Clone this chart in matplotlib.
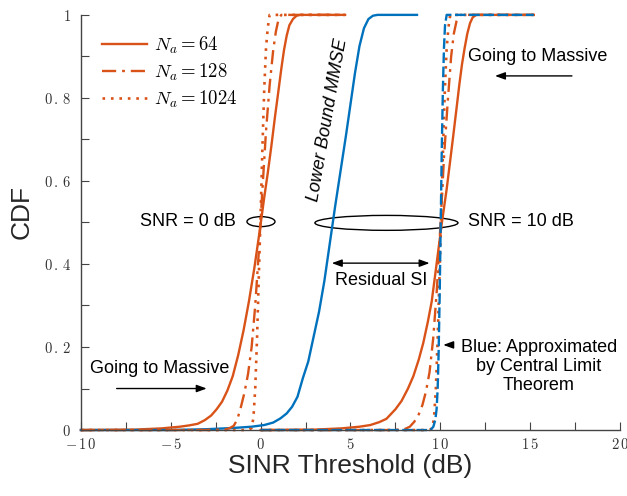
import matplotlib
matplotlib.use("Agg")
import matplotlib.pyplot as plt
from matplotlib.patches import Ellipse
from matplotlib.ticker import MultipleLocator, FuncFormatter

plt.rcParams['font.family'] = ['Liberation Sans', 'DejaVu Sans']
plt.rcParams['mathtext.fontset'] = 'cm'

ORANGE = '#D95319'
BLUE = '#0072BD'

# SNR = 0 dB, N_a = 64 / 128 / 1024
x0_64 = [-10, -7, -5.5, -4.5, -4.0, -3.5, -3.1, -2.75, -2.45, -2.15, -1.85, -1.55, -1.25, -0.95, -0.65, -0.35,
         -0.05, 0.2, 0.4, 0.6, 0.8, 1.0, 1.15, 1.3, 1.45, 1.6, 1.8, 2.0, 2.2, 4.7]
y0_64 = [0, 0.001, 0.004, 0.008, 0.011, 0.015, 0.024, 0.035, 0.05, 0.068, 0.095, 0.13, 0.18, 0.24, 0.31, 0.39,
         0.48, 0.56, 0.62, 0.685, 0.755, 0.82, 0.87, 0.915, 0.95, 0.975, 0.99, 0.998, 1.0, 1.0]
x0_128 = [-10, -2.5, -2.0, -1.75, -1.5, -1.3, -1.1, -0.9, -0.7, -0.5, -0.3, -0.1, 0.1, 0.3, 0.5, 0.7, 0.85, 1.0, 1.15, 4.7]
y0_128 = [0, 0, 0.001, 0.004, 0.01, 0.025, 0.055, 0.09, 0.135, 0.2, 0.3, 0.43, 0.58, 0.72, 0.83, 0.915, 0.96, 0.99, 1.0, 1.0]
x0_1024 = [-10, -0.65, -0.5, -0.4, -0.3, -0.2, -0.1, 0.0, 0.1, 0.2, 0.3, 0.4, 0.5, 4.7]
y0_1024 = [0, 0, 0.005, 0.03, 0.1, 0.22, 0.37, 0.52, 0.68, 0.82, 0.92, 0.97, 1.0, 1.0]

# SNR = 10 dB, N_a = 64 / 128 / 1024
x10_64 = [0, 3.0, 4.5, 5.5, 6.1, 6.6, 7.0, 7.5, 7.84, 8.2, 8.5, 8.8, 9.05, 9.3, 9.52, 9.79, 10.07, 10.35, 10.55,
          10.72, 10.9, 11.05, 11.2, 11.35, 11.5, 11.65, 11.8, 12.0, 15.2]
y10_64 = [0, 0.001, 0.004, 0.008, 0.012, 0.019, 0.027, 0.05, 0.07, 0.1, 0.13, 0.17, 0.21, 0.26, 0.31, 0.4, 0.495,
          0.58, 0.65, 0.71, 0.775, 0.83, 0.88, 0.92, 0.955, 0.98, 0.994, 1.0, 1.0]
x10_128 = [0, 7.5, 8.0, 8.3, 8.55, 8.8, 9.0, 9.2, 9.4, 9.6, 9.8, 10.0, 10.2, 10.4, 10.6, 10.75, 10.9, 11.1, 15.2]
y10_128 = [0, 0, 0.002, 0.008, 0.02, 0.038, 0.06, 0.093, 0.14, 0.22, 0.335, 0.49, 0.655, 0.785, 0.9, 0.955, 0.985, 1.0, 1.0]
x10_1024 = [0, 9.4, 9.55, 9.65, 9.75, 9.85, 9.95, 10.05, 10.15, 10.25, 10.35, 10.45, 10.55, 15.2]
y10_1024 = [0, 0, 0.005, 0.03, 0.1, 0.22, 0.37, 0.52, 0.68, 0.82, 0.92, 0.97, 1.0, 1.0]

# lower bound MMSE (blue solid) and CLT approximation (blue dashed)
x_mmse = [-10, -5, -3, -1.5, -0.5, 0.2, 0.7, 1.1, 1.45, 1.75, 2.05, 2.35, 2.65, 2.95, 3.25, 3.55, 3.85, 4.15,
          4.45, 4.75, 5.0, 5.25, 5.5, 5.75, 6.0, 6.25, 6.5, 8.7]
y_mmse = [0, 0, 0.002, 0.005, 0.008, 0.012, 0.018, 0.028, 0.04, 0.056, 0.08, 0.125, 0.165, 0.225, 0.285, 0.36,
          0.45, 0.54, 0.625, 0.71, 0.785, 0.86, 0.925, 0.968, 0.99, 0.998, 1.0, 1.0]
x_clt = [0, 9.45, 9.61, 9.72, 9.79, 9.85, 9.9, 9.96, 10.02, 10.08, 10.14, 10.2, 10.26, 10.35, 15.2]
y_clt = [0, 0, 0.008, 0.025, 0.05, 0.1, 0.18, 0.32, 0.5, 0.68, 0.82, 0.92, 0.975, 1.0, 1.0]

labels = [r'$N_a = 64$', r'$N_a = 128$', r'$N_a = 1024$']

fig = plt.figure(figsize=(6.27, 4.96), dpi=100)
ax = fig.add_axes([0.129, 0.133, 0.860, 0.837])

dashdot = (0, (6, 2.5, 1.2, 2.5))
dotted = (0, (1, 2.2))

l64, = ax.plot(x0_64, y0_64, color=ORANGE, lw=1.7, clip_on=False, label=labels[0])
ax.plot(x10_64, y10_64, color=ORANGE, lw=1.7, clip_on=False)
ax.plot(x_mmse, y_mmse, color=BLUE, lw=1.7, clip_on=False)
l128, = ax.plot(x0_128, y0_128, color=ORANGE, lw=1.7, ls=dashdot, clip_on=False, label=labels[1])
ax.plot(x10_128, y10_128, color=ORANGE, lw=1.7, ls=dashdot, clip_on=False)
l1024, = ax.plot(x0_1024, y0_1024, color=ORANGE, lw=1.9, ls=dotted, clip_on=False, label=labels[2])
ax.plot(x10_1024, y10_1024, color=ORANGE, lw=1.9, ls=dotted, clip_on=False)
ax.plot(x_clt, y_clt, color=BLUE, lw=1.7, ls=(0, (4.5, 1.5)), clip_on=False)

ax.set_xlim(-10, 20)
ax.set_ylim(0, 1)

for s in ['top', 'right']:
    ax.spines[s].set_visible(False)
for s in ['left', 'bottom']:
    ax.spines[s].set_color('#444444')
    ax.spines[s].set_linewidth(1.0)

ax.xaxis.set_major_locator(MultipleLocator(5))
ax.xaxis.set_minor_locator(MultipleLocator(2.5))
ax.yaxis.set_major_locator(MultipleLocator(0.2))
ax.yaxis.set_minor_locator(MultipleLocator(0.1))


def spaced(v, pos):
    s = '%g' % round(v, 3)
    return '$' + r'\,'.join(s) + '$'


ax.xaxis.set_major_formatter(FuncFormatter(spaced))
ax.yaxis.set_major_formatter(FuncFormatter(spaced))
ax.tick_params(which='both', direction='in', length=6, width=0.8, color='#444444')
ax.tick_params(axis='both', labelsize=10.5, labelcolor='#333333')
ax.tick_params(axis='y', pad=7)
ax.tick_params(axis='x', pad=5)

ax.set_xlabel('SINR Threshold (dB)', fontsize=19, color='#262626')
ax.xaxis.set_label_coords(0.499, -0.087)
ax.xaxis.label.set_va('center')
ax.set_ylabel('CDF', fontsize=19, color='#262626')
ax.yaxis.set_label_coords(-0.109, 0.525)
ax.yaxis.label.set_va('center')

ax.legend(handles=[l64, l128, l1024], loc='upper left', bbox_to_anchor=(0.039, 0.952),
          frameon=False, fontsize=13.5, handlelength=2.4, handletextpad=0.4,
          labelspacing=0.3, borderpad=0, borderaxespad=0)

# annotations
ax.add_patch(Ellipse((0.02, 0.502), 1.56, 0.024, fill=False, ec='k', lw=1))
ax.text(-1.35, 0.502, 'SNR = 0 dB', fontsize=13, ha='right', va='center')

ax.add_patch(Ellipse((7.0, 0.499), 7.96, 0.036, fill=False, ec='k', lw=1))
ax.text(11.55, 0.502, 'SNR = 10 dB', fontsize=13, ha='left', va='center')

ax.annotate('', xy=(9.4, 0.402), xytext=(3.96, 0.402),
            arrowprops=dict(arrowstyle='<|-|>,head_length=0.6,head_width=0.22',
                            color='k', lw=1, shrinkA=0, shrinkB=0, mutation_scale=10))
ax.text(6.68, 0.359, 'Residual SI', fontsize=13, ha='center', va='center')

ax.text(3.75, 0.747, 'Lower Bound MMSE', fontsize=13, ha='center', va='center',
        rotation=80, style='italic')

ax.text(11.54, 0.899, 'Going to Massive', fontsize=13, ha='left', va='center')
ax.annotate('', xy=(13.04, 0.853), xytext=(17.32, 0.853),
            arrowprops=dict(arrowstyle='-|>,head_length=0.6,head_width=0.22',
                            color='k', lw=1, shrinkA=0, shrinkB=0, mutation_scale=10))

ax.text(-9.5, 0.149, 'Going to Massive', fontsize=13, ha='left', va='center')
ax.annotate('', xy=(-3.0, 0.1), xytext=(-8.01, 0.1),
            arrowprops=dict(arrowstyle='-|>,head_length=0.6,head_width=0.22',
                            color='k', lw=1, shrinkA=0, shrinkB=0, mutation_scale=10))

ax.text(15.49, 0.1525, 'Blue: Approximated\nby Central Limit\nTheorem', fontsize=13,
        ha='center', va='center', multialignment='center', linespacing=1.15)
ax.annotate('', xy=(10.16, 0.205), xytext=(10.63, 0.205),
            arrowprops=dict(arrowstyle='-|>,head_length=0.6,head_width=0.22',
                            color='k', lw=1, shrinkA=0, shrinkB=0, mutation_scale=10))

fig.savefig('out.png', dpi=100)
